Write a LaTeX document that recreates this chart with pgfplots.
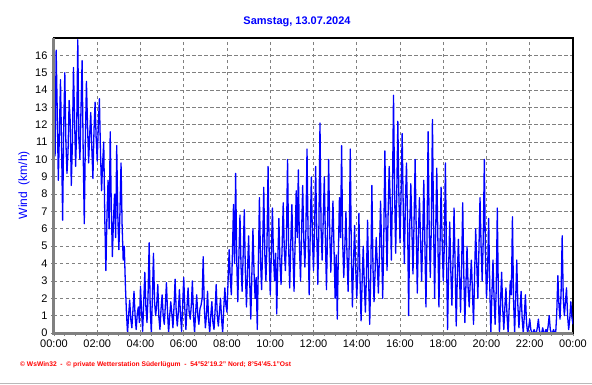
\documentclass[border=0pt]{standalone}
\usepackage{fontspec}
\setmainfont{Liberation Sans}
\usepackage{pgfplots}
\pgfplotsset{compat=1.18}
\definecolor{wblue}{RGB}{0,0,255}
\definecolor{wred}{RGB}{255,0,0}
\definecolor{wgray}{RGB}{128,128,128}
\begin{document}
\begin{tikzpicture}[x=1pt,y=1pt]
\path[use as bounding box] (0,0) rectangle (592,384);
\draw[gray!55, line width=1.5pt] (0,0.75) -- (592,0.75);
\begin{axis}[
  at={(54pt,51pt)}, anchor=south west,
  width=519pt, height=295pt, scale only axis,
  xmin=0, xmax=24, ymin=0, ymax=17,
  xtick={0,2,...,24},
  xticklabels={00:00,02:00,04:00,06:00,08:00,10:00,12:00,14:00,16:00,18:00,20:00,22:00,00:00},
  minor x tick num=3,
  ytick={0,1,...,16},
  xtick pos=bottom, ytick pos=left,
  grid=major,
  major grid style={wgray, line width=0.8pt, dash pattern=on 3.5pt off 2.5pt},
  minor grid style={draw=none},
  tick align=outside,
  major tick length=3pt, minor tick length=2.5pt,
  every tick/.style={wgray, line width=0.8pt},
  axis line style={black, line width=1.2pt},
  tick label style={font=\fontsize{11}{13}\selectfont, black},
  /pgf/number format/assume math mode=true,
  after end axis/.code={
    \draw[wgray, line width=3pt] (rel axis cs:0,-0.005) -- (rel axis cs:0,1);
    \draw[wgray, line width=3pt] (rel axis cs:-0.003,0) -- (rel axis cs:1,0);
  },
]
\addplot[wblue, line width=1.3pt, line join=round] coordinates {
(0.0,12.5)(0.05,10.2)(0.1,16.3)(0.15,12.8)(0.2,8.8)(0.25,11.5)(0.3,14.6)(0.35,10.8)(0.4,6.5)(0.45,12.0)
(0.5,15.0)(0.55,11.0)(0.6,9.2)(0.65,10.5)(0.7,13.4)(0.75,12.2)(0.8,8.5)(0.85,10.9)(0.9,15.3)(0.95,12.4)
(1.0,9.6)(1.05,11.8)(1.1,16.9)(1.15,11.2)(1.2,10.0)(1.25,13.0)(1.3,15.7)(1.35,10.4)(1.4,6.3)(1.45,11.0)
(1.5,14.5)(1.55,12.0)(1.6,9.8)(1.65,11.4)(1.7,12.7)(1.75,10.6)(1.8,8.9)(1.85,11.7)(1.9,13.3)(1.95,11.2)
(2.0,9.9)(2.05,12.0)(2.1,13.5)(2.15,10.4)(2.2,8.2)(2.25,9.8)(2.3,11.0)(2.35,6.5)(2.4,3.6)(2.45,6.8)
(2.5,8.8)(2.55,6.0)(2.6,11.6)(2.65,7.2)(2.7,4.4)(2.75,6.5)(2.8,8.0)(2.85,5.5)(2.9,10.8)(2.95,6.8)
(3.0,4.8)(3.05,7.0)(3.1,9.8)(3.15,6.2)(3.2,4.2)(3.25,5.0)(3.3,2.8)(3.35,1.2)(3.4,0.0)(3.45,1.0)
(3.5,1.9)(3.55,0.8)(3.6,0.3)(3.65,1.3)(3.7,2.4)(3.75,1.0)(3.8,0.2)(3.85,1.1)(3.9,1.5)(3.95,0.6)
(4.0,2.7)(4.05,1.2)(4.1,0.1)(4.15,1.8)(4.2,3.5)(4.25,1.5)(4.3,0.6)(4.35,2.2)(4.4,5.2)(4.45,1.4)
(4.5,0.0)(4.55,2.0)(4.6,4.6)(4.65,1.8)(4.7,1.0)(4.75,1.6)(4.8,2.8)(4.85,0.9)(4.9,0.2)(4.95,1.4)
(5.0,2.2)(5.05,1.0)(5.1,0.5)(5.15,1.6)(5.2,2.9)(5.25,1.2)(5.3,0.0)(5.35,1.0)(5.4,1.8)(5.45,1.1)
(5.5,0.3)(5.55,1.5)(5.6,3.1)(5.65,1.3)(5.7,0.4)(5.75,1.2)(5.8,2.5)(5.85,1.0)(5.9,0.1)(5.95,1.6)
(6.0,3.2)(6.05,1.4)(6.1,0.2)(6.15,1.5)(6.2,2.6)(6.25,1.2)(6.3,0.8)(6.35,1.6)(6.4,3.0)(6.45,1.0)
(6.5,0.0)(6.55,1.2)(6.6,2.2)(6.65,1.0)(6.7,0.5)(6.75,1.4)(6.8,1.6)(6.85,2.0)(6.9,4.4)(6.95,1.5)
(7.0,0.3)(7.05,1.0)(7.1,2.4)(7.15,0.8)(7.2,0.0)(7.25,1.0)(7.3,1.8)(7.35,0.6)(7.4,0.2)(7.45,1.3)
(7.5,2.8)(7.55,1.0)(7.6,0.4)(7.65,1.2)(7.7,2.0)(7.75,0.8)(7.8,0.0)(7.85,1.4)(7.9,2.6)(7.95,1.6)
(8.0,1.2)(8.05,3.0)(8.1,4.8)(8.15,3.2)(8.2,2.2)(8.25,4.5)(8.3,7.4)(8.35,4.0)(8.4,9.2)(8.45,4.2)
(8.5,1.8)(8.55,4.4)(8.6,6.8)(8.65,3.8)(8.7,2.4)(8.75,4.6)(8.8,7.1)(8.85,3.5)(8.9,1.5)(8.95,3.6)
(9.0,5.6)(9.05,3.0)(9.1,0.8)(9.15,3.4)(9.2,6.0)(9.25,3.5)(9.3,2.0)(9.35,3.2)(9.4,0.2)(9.45,4.0)
(9.5,7.8)(9.55,4.2)(9.6,2.5)(9.65,5.0)(9.7,8.4)(9.75,4.5)(9.8,3.0)(9.85,5.2)(9.9,9.6)(9.95,4.6)
(10.0,2.2)(10.05,4.5)(10.1,7.2)(10.15,4.4)(10.2,3.0)(10.25,4.6)(10.3,1.1)(10.35,4.2)(10.4,6.6)(10.45,4.0)
(10.5,2.8)(10.55,5.0)(10.6,7.5)(10.65,4.8)(10.7,3.6)(10.75,5.5)(10.8,10.0)(10.85,5.0)(10.9,2.6)(10.95,5.2)
(11.0,7.4)(11.05,4.6)(11.1,2.4)(11.15,5.2)(11.2,8.2)(11.25,5.5)(11.3,9.4)(11.35,5.0)(11.4,3.0)(11.45,5.8)
(11.5,8.5)(11.55,5.4)(11.6,3.8)(11.65,6.0)(11.7,10.6)(11.75,5.6)(11.8,2.2)(11.85,5.8)(11.9,9.0)(11.95,5.5)
(12.0,3.6)(12.05,6.0)(12.1,9.6)(12.15,5.8)(12.2,2.8)(12.25,6.2)(12.3,12.1)(12.35,6.0)(12.4,4.2)(12.45,6.5)
(12.5,9.0)(12.55,5.5)(12.6,2.5)(12.65,6.0)(12.7,10.0)(12.75,5.8)(12.8,3.5)(12.85,5.6)(12.9,7.6)(12.95,4.8)
(13.0,2.0)(13.05,4.5)(13.1,0.8)(13.15,4.6)(13.2,7.8)(13.25,5.5)(13.3,10.8)(13.35,5.2)(13.4,3.2)(13.45,5.0)
(13.5,7.0)(13.55,4.5)(13.6,2.4)(13.65,5.0)(13.7,10.6)(13.75,4.6)(13.8,1.5)(13.85,4.0)(13.9,6.2)(13.95,3.8)
(14.0,2.0)(14.05,3.6)(14.1,6.9)(14.15,3.2)(14.2,0.7)(14.25,3.0)(14.3,5.0)(14.35,2.8)(14.4,1.2)(14.45,3.4)
(14.5,6.5)(14.55,3.0)(14.6,0.5)(14.65,3.5)(14.7,8.5)(14.75,3.8)(14.8,1.8)(14.85,3.6)(14.9,5.5)(14.95,4.0)
(15.0,2.3)(15.05,4.5)(15.1,7.6)(15.15,5.0)(15.2,2.0)(15.25,5.5)(15.3,10.5)(15.35,6.5)(15.4,3.6)(15.45,6.8)
(15.5,9.6)(15.55,7.5)(15.6,4.2)(15.65,8.0)(15.7,13.7)(15.75,8.2)(15.8,4.6)(15.85,8.0)(15.9,12.2)(15.95,7.8)
(16.0,5.2)(16.05,8.0)(16.1,11.5)(16.15,7.2)(16.2,4.0)(16.25,7.5)(16.3,9.8)(16.35,6.5)(16.4,1.0)(16.45,6.2)
(16.5,8.6)(16.55,6.0)(16.6,3.4)(16.65,6.4)(16.7,10.0)(16.75,6.0)(16.8,2.3)(16.85,5.6)(16.9,7.8)(16.95,5.4)
(17.0,3.0)(17.05,5.5)(17.1,8.8)(17.15,5.2)(17.2,1.5)(17.25,5.6)(17.3,11.6)(17.35,6.0)(17.4,3.2)(17.45,6.2)
(17.5,12.3)(17.55,6.5)(17.6,2.0)(17.65,5.8)(17.7,9.5)(17.75,5.5)(17.8,1.5)(17.85,5.0)(17.9,8.4)(17.95,5.2)
(18.0,3.0)(18.05,5.0)(18.1,9.8)(18.15,4.5)(18.2,0.2)(18.25,3.8)(18.3,6.4)(18.35,3.6)(18.4,1.6)(18.45,4.0)
(18.5,7.2)(18.55,3.8)(18.6,0.4)(18.65,3.2)(18.7,5.4)(18.75,3.4)(18.8,1.2)(18.85,3.8)(18.9,7.5)(18.95,3.4)
(19.0,0.6)(19.05,2.8)(19.1,5.0)(19.15,2.6)(19.2,1.5)(19.25,3.0)(19.3,4.2)(19.35,2.4)(19.4,0.5)(19.45,3.4)
(19.5,6.0)(19.55,4.0)(19.6,2.0)(19.65,4.8)(19.7,7.8)(19.75,5.0)(19.8,3.0)(19.85,5.4)(19.9,10.0)(19.95,4.5)
(20.0,2.0)(20.05,3.5)(20.1,6.6)(20.15,2.8)(20.2,0.0)(20.25,2.2)(20.3,4.2)(20.35,2.0)(20.4,0.5)(20.45,2.5)
(20.5,7.2)(20.55,2.0)(20.6,0.0)(20.65,1.8)(20.7,3.5)(20.75,1.4)(20.8,0.2)(20.85,1.5)(20.9,2.6)(20.95,1.0)
(21.0,0.0)(21.05,1.5)(21.1,3.0)(21.15,2.2)(21.2,6.7)(21.25,2.0)(21.3,0.0)(21.35,2.0)(21.4,4.2)(21.45,1.6)
(21.5,0.3)(21.55,1.4)(21.6,2.4)(21.65,0.8)(21.7,0.0)(21.75,1.0)(21.8,2.2)(21.85,0.6)(21.9,0.0)(21.95,0.3)
(22.0,0.8)(22.05,0.2)(22.1,0.0)(22.15,0.0)(22.2,0.2)(22.25,0.0)(22.3,0.0)(22.35,0.3)(22.4,0.8)(22.45,0.1)
(22.5,0.0)(22.55,0.0)(22.6,0.3)(22.65,0.0)(22.7,0.0)(22.75,0.2)(22.8,0.0)(22.85,0.4)(22.9,1.0)(22.95,0.2)
(23.0,0.0)(23.05,0.0)(23.1,0.2)(23.15,0.0)(23.2,0.0)(23.25,1.2)(23.3,3.3)(23.35,1.6)(23.4,0.8)(23.45,2.4)
(23.5,5.6)(23.55,2.0)(23.6,1.0)(23.65,1.8)(23.7,2.6)(23.75,1.0)(23.8,0.2)(23.85,0.8)(23.9,1.8)(23.95,0.9)
(24.0,0.5)
};
\end{axis}
\node[wblue, font=\fontsize{11}{13}\selectfont\bfseries] at (297,362) {Samstag, 13.07.2024};
\node[wblue, rotate=90, font=\fontsize{12}{14}\selectfont] at (24,199) {Wind\ \ (km/h)};
\node[wred, anchor=west, font=\fontsize{6.7}{8}\selectfont\bfseries, inner sep=0pt] at (20,19.7)
  {© WsWin32\ \ -\ \ © private Wetterstation Süderlügum\ \ -\ \ 54°52'19.2" Nord; 8°54'45.1"Ost};
\end{tikzpicture}
\end{document}
